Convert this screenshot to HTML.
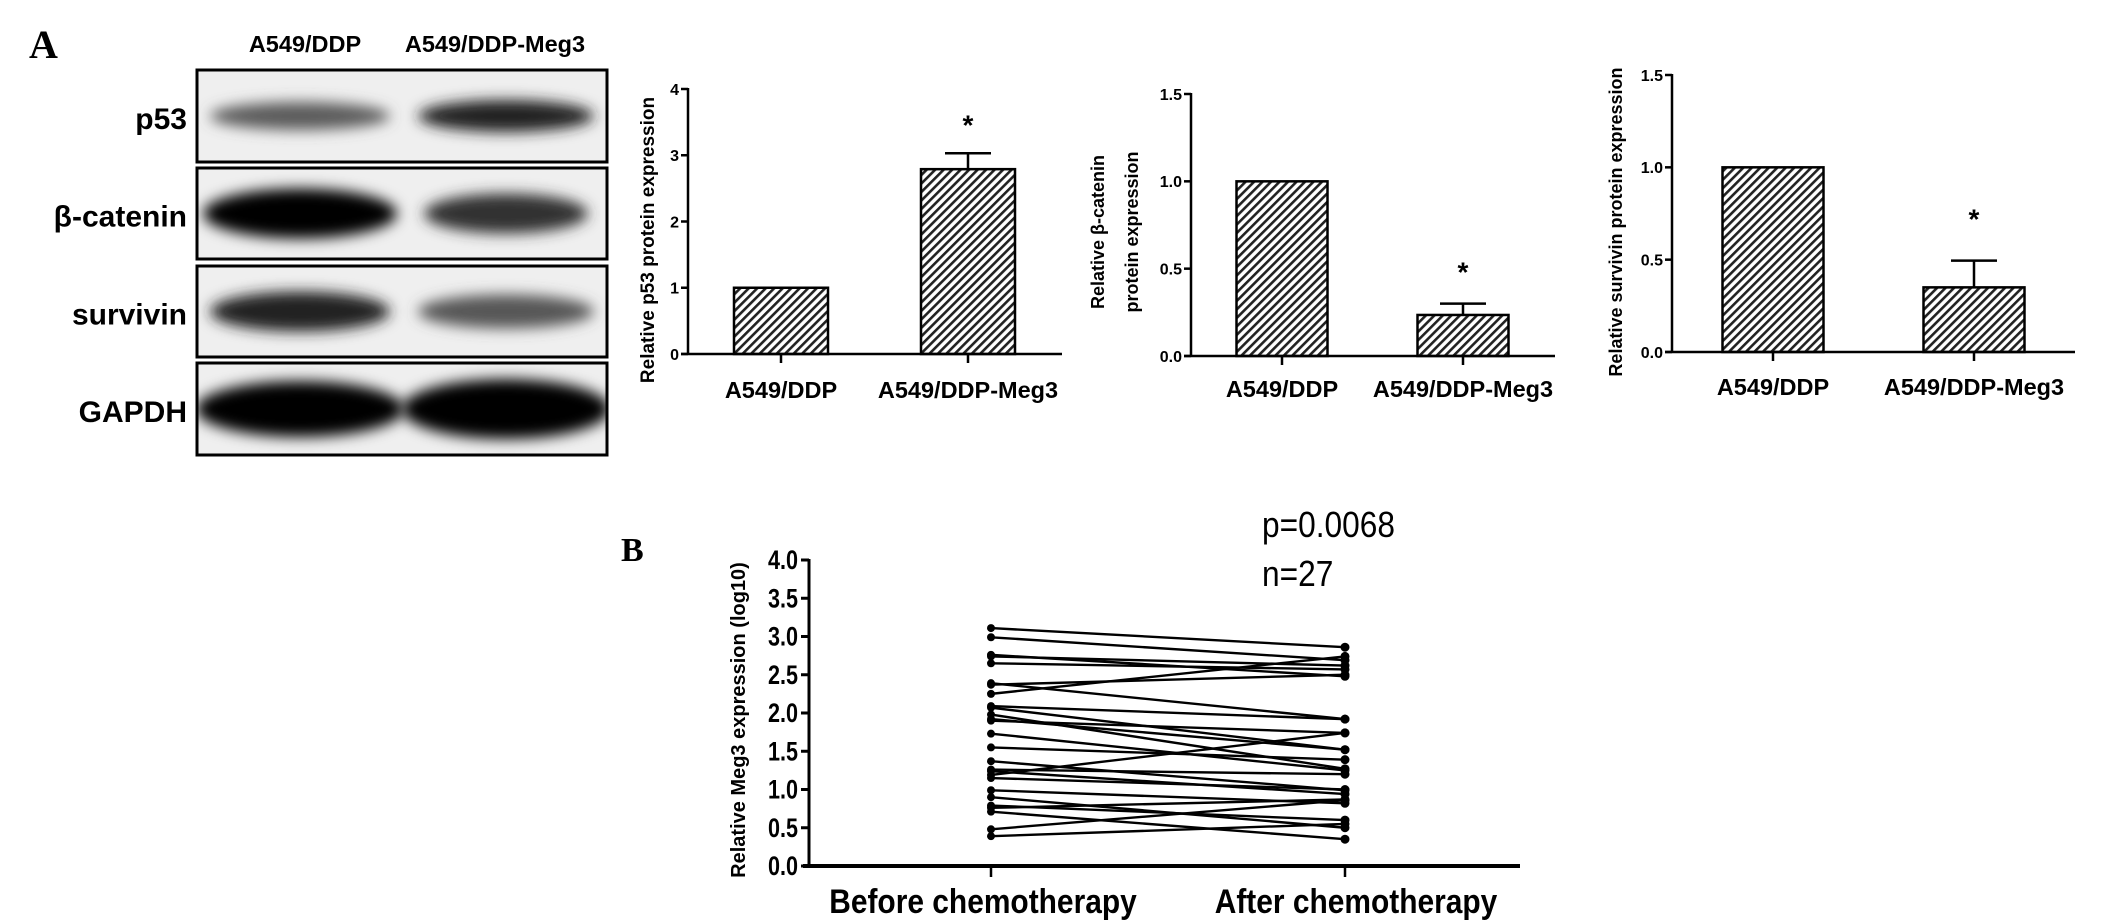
<!DOCTYPE html>
<html><head><meta charset="utf-8"><style>
html,body{margin:0;padding:0;background:#fff;}
svg{display:block;font-family:"Liberation Sans",sans-serif;}
</style></head><body>
<svg id="fig" width="2126" height="924" viewBox="0 0 2126 924" xmlns="http://www.w3.org/2000/svg">
<defs>
<pattern id="hatch" patternUnits="userSpaceOnUse" width="6" height="6" patternTransform="rotate(45)">
<rect width="6" height="6" fill="#fff"/><rect x="0" y="0" width="2.6" height="6" fill="#222"/>
</pattern>
<filter id="blur" x="-30%" y="-80%" width="160%" height="260%"><feGaussianBlur stdDeviation="7"/></filter>
<clipPath id="c1"><rect x="197" y="70" width="410" height="92"/></clipPath>
<clipPath id="c2"><rect x="197" y="168" width="410" height="91"/></clipPath>
<clipPath id="c3"><rect x="197" y="266" width="410" height="91"/></clipPath>
<clipPath id="c4"><rect x="197" y="363" width="410" height="92"/></clipPath>
</defs>
<text x="29" y="58" font-family="Liberation Serif,serif" font-weight="bold" font-size="40">A</text>
<text x="621" y="561" font-family="Liberation Serif,serif" font-weight="bold" font-size="34">B</text>
<g id="blot"></g>
<g id="bars"></g>
<g id="paired"></g>
</svg>
<script>
const NS="http://www.w3.org/2000/svg";
function mk(tag,attrs,parent,txt){const e=document.createElementNS(NS,tag);for(const k in attrs)e.setAttribute(k,attrs[k]);if(txt!==undefined)e.textContent=txt;parent.appendChild(e);return e;}

// ---------- Western blot ----------
const blotRows=["p53","β-catenin","survivin","GAPDH"];
const blotLanes=["A549/DDP","A549/DDP-Meg3"];
const bandIntensity=[[0.6,0.85],[1.0,0.78],[0.85,0.62],[1.0,1.0]];
const blot=document.getElementById('blot');
const boxTop=[70,168,266,363], boxH=[92,91,91,92];
const laneCx=[300,506];
const headerCx=[305,495];
const bandRy=[[14,16],[25,20],[20,17],[28,30]];
const bandRx=[[90,88],[97,82],[90,88],[104,104]];
blotLanes.forEach((n,i)=>{
  const t=mk('text',{x:headerCx[i],y:52,'text-anchor':'middle','font-size':23.5,'font-weight':'bold'},blot,n);
  
  
});
blotRows.forEach((r,ri)=>{
  const y=boxTop[ri], cy=y+boxH[ri]/2;
  const g=mk('g',{'clip-path':'url(#c'+(ri+1)+')'},blot);
  
  
  mk('rect',{x:197,y:y,width:410,height:boxH[ri],fill:'#efefef'},g);
  for(let li=0;li<2;li++){
    const v=bandIntensity[ri][li]; const c=Math.round(255*(1-v)*0.9);
    const e=mk('ellipse',{cx:laneCx[li],cy:cy,rx:bandRx[ri][li],ry:bandRy[ri][li],fill:`rgb(${c},${c},${c})`,filter:'url(#blur)'},g);
    
    
  }
  const b=mk('rect',{x:197,y:y,width:410,height:boxH[ri],fill:'none',stroke:'#000','stroke-width':3},blot);
  
  
  const t=mk('text',{x:187,y:cy+13,'text-anchor':'end','font-size':30,'font-weight':'bold'},blot,r);
  
  
});

// ---------- Bar charts ----------
const barCategories=["A549/DDP","A549/DDP-Meg3"];
const p53Values=[1.0,2.79];
const p53Errors=[0,0.24];
const catValues=[1.0,0.235];
const catErrors=[0,0.065];
const survValues=[1.0,0.35];
const survErrors=[0,0.145];
const p53Ticks=["0","1","2","3","4"];
const frac15Ticks=["0.0","0.5","1.0","1.5"];

const charts=[
 {vals:p53Values,errs:p53Errors,ticks:p53Ticks,step:1,ax:688,end:1062,y0:354,ytop:89,max:4,cx:[781,968],bw:94,title:["Relative p53 protein expression"],tx:[648],ty:240,star:33,tf:16,base:398,ts:19},
 {vals:catValues,errs:catErrors,ticks:frac15Ticks,step:0.5,ax:1191,end:1555,y0:356,ytop:94,max:1.5,cx:[1282,1463],bw:91,title:["Relative β-catenin","protein expression"],tx:[1098,1132],ty:232,star:36,tf:16,base:397,ts:18},
 {vals:survValues,errs:survErrors,ticks:frac15Ticks,step:0.5,ax:1672,end:2075,y0:352,ytop:75,max:1.5,cx:[1773,1974],bw:101,title:["Relative survivin protein expression"],tx:[1616],ty:222,star:46,tf:16,base:395,ts:18}
];
const bars=document.getElementById('bars');
charts.forEach((c,ci)=>{
  const g=mk('g',{},bars);
  
  
  const Y=v=>c.y0-(v/c.max)*(c.y0-c.ytop);
  c.vals.forEach((v,i)=>{
    const r=mk('rect',{x:c.cx[i]-c.bw/2,y:Y(v),width:c.bw,height:c.y0-Y(v),fill:'url(#hatch)',stroke:'#000','stroke-width':2.5},g);
    
    
    if(c.errs[i]>0){
      const et=Y(v+c.errs[i]);
      const e=mk('path',{d:`M${c.cx[i]},${Y(v)}V${et}M${c.cx[i]-23},${et}H${c.cx[i]+23}`,stroke:'#000','stroke-width':2.5,fill:'none'},g);
      
      
      const s=mk('text',{x:c.cx[i],y:et-c.star+14,'text-anchor':'middle','font-size':28,'font-weight':'bold'},g,'*');
      
      
    }
    const tk=mk('line',{x1:c.cx[i],x2:c.cx[i],y1:c.y0,y2:c.y0+9,stroke:'#000','stroke-width':2.5},g);
    
    
    const lb=mk('text',{x:c.cx[i],y:c.base,'text-anchor':'middle','font-size':23.5,'font-weight':'bold'},g,barCategories[i]);
    
    
  });
  const ya=mk('line',{x1:c.ax,x2:c.ax,y1:c.ytop-1,y2:c.y0+1,stroke:'#000','stroke-width':2.5},g);
  
  
  const xa=mk('line',{x1:c.ax-7,x2:c.end,y1:c.y0,y2:c.y0,stroke:'#000','stroke-width':2.5},g);
  
  
  c.ticks.forEach((t,i)=>{
    const yy=Y(i*c.step);
    const l=mk('line',{x1:c.ax-7,x2:c.ax,y1:yy,y2:yy,stroke:'#000','stroke-width':2.5},g);
    
    
    const tt=mk('text',{x:c.ax-9,y:yy+c.tf*0.36,'text-anchor':'end','font-size':c.tf,'font-weight':'bold'},g,t);
    
    
  });
  c.title.forEach((t,i)=>{
    const tt=mk('text',{x:0,y:0,'text-anchor':'middle','font-size':c.ts,'font-weight':'bold',transform:`translate(${c.tx[i]+6},${c.ty}) rotate(-90)`},g,t);
    
    
  });
});

// ---------- Paired chart ----------
const pairedCategories=["Before chemotherapy","After chemotherapy"];
const pairedTicks=["0.0","0.5","1.0","1.5","2.0","2.5","3.0","3.5","4.0"];
const beforeValues=[3.11,2.99,2.76,2.74,2.65,2.39,2.37,2.25,2.09,2.07,1.98,1.92,1.90,1.73,1.55,1.37,1.26,1.24,1.19,1.15,0.99,0.90,0.79,0.76,0.71,0.48,0.39];
const afterValues=[2.86,2.69,2.48,2.62,2.57,1.92,2.50,2.74,1.92,1.52,1.27,1.52,1.74,1.25,1.39,0.99,1.20,0.94,1.74,1.00,0.82,0.50,0.60,0.87,0.35,0.86,0.55];
const P=document.getElementById('paired');
const pAx=809,pY0=866,pYtop=560,pMax=4,pEnd=1520,pX=[991,1345];
const PY=v=>pY0-(v/pMax)*(pY0-pYtop);
beforeValues.forEach((b,i)=>{
  const a=afterValues[i];
  const l=mk('line',{x1:pX[0],y1:PY(b),x2:pX[1],y2:PY(a),stroke:'#000','stroke-width':2.4},P);
  
  
});
beforeValues.forEach((b,i)=>{
  const a=afterValues[i];
  const c1=mk('circle',{cx:pX[0],cy:PY(b),r:4,fill:'#000'},P);
  
  
  const c2=mk('circle',{cx:pX[1],cy:PY(a),r:4.5,fill:'#000'},P);
  
  
});
const pya=mk('line',{x1:pAx,x2:pAx,y1:pYtop-1,y2:pY0,stroke:'#000','stroke-width':3},P);


const pxa=mk('line',{x1:pAx-6,x2:pEnd,y1:pY0,y2:pY0,stroke:'#000','stroke-width':4},P);


pairedTicks.forEach((t,i)=>{
  const yy=PY(i*0.5);
  const l=mk('line',{x1:pAx-8,x2:pAx,y1:yy,y2:yy,stroke:'#000','stroke-width':3},P);
  
  
  const tt=mk('text',{x:0,y:0,'text-anchor':'end','font-size':27,'font-weight':'bold',transform:`translate(${pAx-11},${yy+9}) scale(0.8,1)`},P,t);
  
  
});
pairedCategories.forEach((t,i)=>{
  const l=mk('line',{x1:pX[i],x2:pX[i],y1:pY0,y2:pY0+11,stroke:'#000','stroke-width':2.5},P);
  
  
  const tt=mk('text',{x:0,y:0,'text-anchor':'middle','font-size':34,'font-weight':'bold',transform:`translate(${i?1356:983},${913}) scale(0.88,1)`},P,t);
  
  
});
const pyt=mk('text',{x:0,y:0,'text-anchor':'middle','font-size':20,'font-weight':'bold',transform:`translate(745,720) rotate(-90)`},P,'Relative Meg3 expression (log10)');


const pv=mk('text',{x:0,y:0,'font-size':36,transform:'translate(1262,537) scale(0.88,1)'},P,'p=0.0068');


const nv=mk('text',{x:0,y:0,'font-size':36,transform:'translate(1262,586) scale(0.88,1)'},P,'n=27');


</script>
</body></html>
